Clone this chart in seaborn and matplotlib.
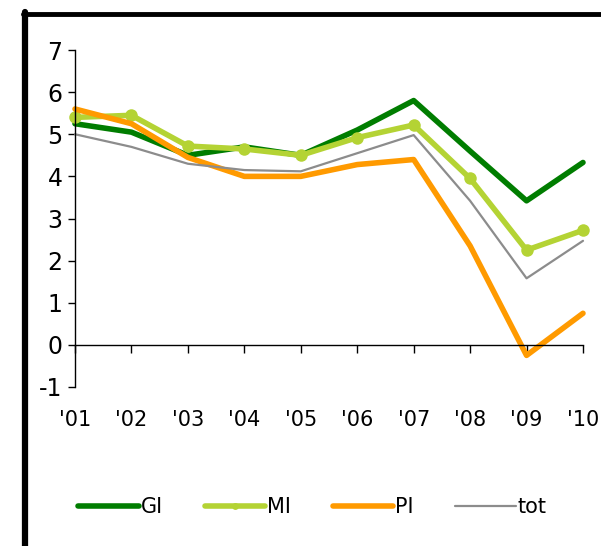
import numpy as np
import pandas as pd
import matplotlib
matplotlib.use("Agg")
import matplotlib.pyplot as plt
import seaborn as sns
from matplotlib.lines import Line2D

years = ["'01", "'02", "'03", "'04", "'05", "'06", "'07", "'08", "'09", "'10"]
gi = [5.25, 5.05, 4.5, 4.7, 4.5, 5.1, 5.8, 4.6, 3.42, 4.33]
mi = [5.4, 5.45, 4.72, 4.65, 4.5, 4.92, 5.22, 3.95, 2.25, 2.72]
pi = [5.6, 5.25, 4.45, 4.0, 4.0, 4.28, 4.4, 2.35, -0.25, 0.75]
tot = [5.0, 4.7, 4.3, 4.15, 4.12, 4.55, 4.98, 3.42, 1.58, 2.47]
yticks = [-1, 0, 1, 2, 3, 4, 5, 6, 7]

df = pd.DataFrame({"idx": np.arange(len(years)), "GI": gi, "MI": mi, "PI": pi, "tot": tot})

sns.set_style("white")
plt.rcParams["font.family"] = ["DejaVu Sans"]
plt.rcParams["text.color"] = "black"
plt.rcParams["xtick.color"] = "black"
plt.rcParams["ytick.color"] = "black"

fig = plt.figure(figsize=(6.01, 5.46), dpi=100)
ax = fig.add_axes([75/601, 1-387/546, (583-75)/601, (387-50)/546])

sns.lineplot(data=df, x="idx", y="GI", ax=ax, color="#007d00", linewidth=4, label="GI", clip_on=False)
sns.lineplot(data=df, x="idx", y="MI", ax=ax, color="#b4d334", linewidth=4, marker="o",
             markersize=9, markeredgewidth=0, label="MI", clip_on=False)
sns.lineplot(data=df, x="idx", y="PI", ax=ax, color="#ff9a00", linewidth=4, label="PI", clip_on=False)
sns.lineplot(data=df, x="idx", y="tot", ax=ax, color="#8c8c8c", linewidth=1.6, label="tot", clip_on=False)

for s in ["top", "right"]:
    ax.spines[s].set_visible(False)
ax.spines["bottom"].set_position(("data", 0))
ax.spines["left"].set_color("black")
ax.spines["bottom"].set_color("black")
ax.spines["left"].set_linewidth(1)
ax.spines["bottom"].set_linewidth(1)

ax.set_xlim(0, 9)
ax.set_ylim(-1, 7)
ax.set_yticks(yticks)
ax.set_yticklabels([str(v) for v in yticks])
ax.set_xticks(range(len(years)))
ax.set_xticklabels(years)
ax.set_xlabel("")
ax.set_ylabel("")
ax.tick_params(axis="y", direction="out", length=5, width=1, color="black", left=True, pad=4,
               labelsize=17, labelcolor="black")
ax.tick_params(axis="x", direction="out", length=6, width=1, color="black", bottom=True, pad=41,
               labelsize=15, labelcolor="black")
ax.patch.set_alpha(0)

ax.get_legend().remove()
h, l = ax.get_legend_handles_labels()
fig.legend(h, l, loc="center", bbox_to_anchor=(0.52, 1-507/546), ncol=4, frameon=False,
           fontsize=15, handlelength=2.9, handletextpad=0.1, columnspacing=2.0, numpoints=1,
           markerscale=0.55, labelcolor="black")

# outer frame
fig.add_artist(Line2D([25/601, 25/601], [0, 1-12/546], color="black", linewidth=4.5, transform=fig.transFigure))
fig.add_artist(Line2D([23/601, 1], [1-14/546, 1-14/546], color="black", linewidth=3.5, transform=fig.transFigure))

fig.savefig("out.png", dpi=100)
